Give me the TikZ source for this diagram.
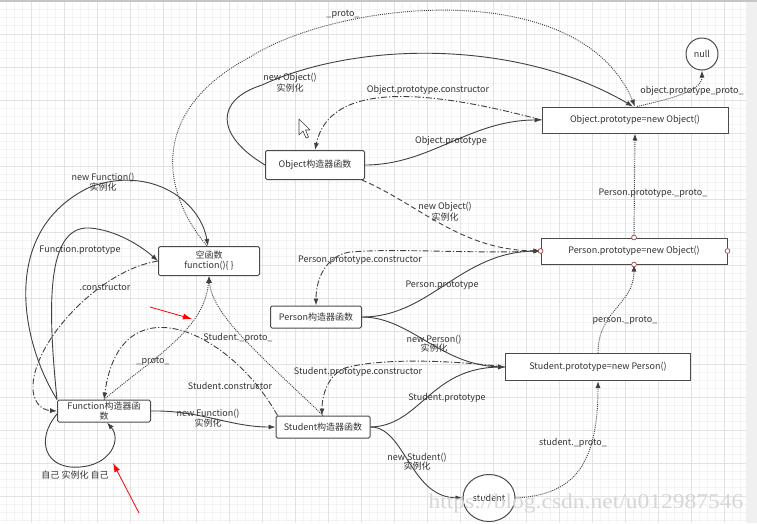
\documentclass[tikz,border=0pt]{standalone}
\usepackage{fontspec}
\setmainfont{Noto Sans CJK SC}
\newfontfamily\wmfont{Liberation Serif}
\usetikzlibrary{arrows.meta}
\usetikzlibrary{shapes.geometric}
\definecolor{linecol}{HTML}{404040}
\definecolor{boxcol}{HTML}{4A4A4A}
\definecolor{txtcol}{HTML}{333333}
\definecolor{gridmin}{HTML}{F3F3F3}
\definecolor{gridmaj}{HTML}{E2E2E2}
\definecolor{portcol}{HTML}{A84848}
\newcommand{\shili}{实例化}
\tikzset{
  ctorbox/.style={draw=boxcol, line width=1pt, rounded corners=1.5pt, fill=white, inner sep=0pt, text=txtcol},
  protobox/.style={draw=boxcol, line width=1pt, fill=white, inner sep=0pt, text=txtcol},
  lbl/.style={text=txtcol, align=center, inner sep=0pt, font=\fontsize{9}{9.5}\selectfont},
  conn/.style={draw=linecol, line width=0.9pt, -{Latex[length=7pt,width=5pt]}},
  protoline/.style={conn, dash pattern=on 1pt off 1.1pt},
  ctorline/.style={conn, dash pattern=on 6pt off 2pt on 1.2pt off 2pt},
  newline/.style={conn, dash pattern=on 5pt off 3pt},
  redarr/.style={draw=red, line width=0.8pt, -{Latex[length=9pt,width=6pt]}},
  portdot/.style={draw=portcol, fill=white, line width=0.7pt},
}
\begin{document}
\begin{tikzpicture}[x=1pt, y=-1pt, font=\fontsize{9}{10}\selectfont]
		\useasboundingbox (0,0) rectangle (757,523);
		% grid paper
		\fill[white] (0,0) rectangle (746,523);
		\fill[gray!12] (746,0) rectangle (757,523);
		\foreach \i in {0,...,90} \draw[gridmin, line width=0.7pt] ({-2+8.25*\i},0) -- ({-2+8.25*\i},523);
		\foreach \j in {0,...,63} \draw[gridmin, line width=0.7pt] (0,{1+8.25*\j}) -- (746,{1+8.25*\j});
		\foreach \i in {0,...,22} \draw[gridmaj, line width=0.8pt] ({-2+33*\i},0) -- ({-2+33*\i},523);
		\foreach \j in {0,...,15} \draw[gridmaj, line width=0.8pt] (0,{1+33*\j}) -- (746,{1+33*\j});
		\fill[gray!45] (0,0) rectangle (757,2);
		
		\draw (315,165) node[ctorbox, minimum width=99pt, minimum height=29pt] (objctor) {Object构造器函数};
		\draw (635,120) node[protobox, minimum width=186pt, minimum height=26pt] (objproto) {Object.prototype=new Object()};
		\draw (702,54) node[circle, draw=boxcol, line width=1pt, fill=white, minimum size=32pt, inner sep=0pt, text=txtcol] (nullnd) {null};
		\draw (634,251) node[protobox, minimum width=186pt, minimum height=26pt] (perproto) {Person.prototype=new Object()};
		\draw (316,317) node[ctorbox, minimum width=91pt, minimum height=22pt] (perctor) {Person构造器函数};
		\draw (598,367) node[protobox, minimum width=185pt, minimum height=27pt] (stuproto) {Student.prototype=new Person()};
		\draw (323,427) node[ctorbox, minimum width=94pt, minimum height=22pt] (stuctor) {Student构造器函数};
		\draw (489,498) node[ellipse, draw=boxcol, line width=1pt, fill=white, minimum width=52pt, minimum height=47pt, inner sep=0pt, text=txtcol] (student) {student};
		\draw (209,261) node[ctorbox, minimum width=101pt, minimum height=29pt, align=center] (emptyfn) {空函数\\function()\{ \}};
		\draw (104,411) node[ctorbox, minimum width=93pt, minimum height=22pt, align=center, font=\fontsize{9}{9.5}\selectfont] (fnctor) {Function构造器函\\数};
		
		% Object
		\draw[protoline] ([xshift=-2pt]emptyfn.north) .. controls (160,190) and (150,110) .. (250,57) .. controls (340,0) and (580,-25) .. (objproto.north);
		\draw[protoline] ([xshift=2pt]objproto.north) .. controls (665,100) and (702,92) .. (nullnd.south);
		\draw[conn] (objctor.west) .. controls (215,135) and (215,100) .. (262,85) .. controls (360,40) and (520,40) .. ([xshift=-2pt]objproto.north);
		\draw[ctorline] (objproto.west) .. controls (430,90) and (330,80) .. (objctor.north);
		\draw[conn] (objctor.east) .. controls (430,165) and (470,120) .. (objproto.west);
		\draw[newline] ([xshift=-3pt]objctor.south east) .. controls (420,205) and (460,250) .. (perproto.west);
		
		% Person
		\draw[protoline] (perproto.north) -- (objproto.south);
		\draw[ctorline] (perproto.west) .. controls (470,254) and (400,248) .. (350,252) .. controls (325,256) and (316,280) .. (perctor.north);
		\draw[conn] (perctor.east) .. controls (430,317) and (460,252) .. (perproto.west);
		\draw[conn] (perctor.east) .. controls (410,317) and (440,365) .. (stuproto.west);
		\draw[protoline] (stuproto.north) .. controls (598,310) and (634,305) .. (perproto.south);
		
		% Student
		\draw[ctorline] (stuproto.west) .. controls (450,360) and (380,358) .. (345,368) .. controls (328,375) and (322,395) .. ([xshift=-1pt]stuctor.north);
		\draw[conn] (stuctor.east) .. controls (420,426) and (430,368) .. (stuproto.west);
		\draw[conn] (stuctor.east) .. controls (405,427) and (410,497) .. (student.west);
		\draw[protoline] (student.east) .. controls (570,495) and (598,470) .. (stuproto.south);
		\draw[protoline] (stuctor.north) .. controls (260,355) and (212,315) .. (emptyfn.south);
		\draw[ctorline] ([xshift=2pt]stuctor.north west) .. controls (230,330) and (120,280) .. (fnctor.north);
		
		% Function
		\draw[protoline] (fnctor.north) .. controls (150,360) and (205,330) .. (emptyfn.south);
		\draw[conn] (fnctor.east) .. controls (200,410) and (230,427) .. (stuctor.west);
		\draw[conn] ([yshift=-3pt]fnctor.west) .. controls (35,440) and (45,470) .. (80,467) .. controls (110,465) and (122,440) .. ([xshift=3pt]fnctor.south);
		\draw[conn] (fnctor.north west) .. controls (20,340) and (0,230) .. (90,187) .. controls (150,165) and (200,200) .. ([xshift=-1pt]emptyfn.north);
		\draw[conn] (fnctor.north west) .. controls (48,310) and (45,225) .. (90,228) .. controls (115,230) and (140,245) .. (emptyfn.west);
		\draw[ctorline] (emptyfn.west) .. controls (100,270) and (35,340) .. (33,385) .. controls (32,400) and (40,410) .. (fnctor.west);
		
		\foreach \a in {north,south,east,west} \draw[portdot] (perproto.\a) circle (2.4);
		
		% labels
		\draw (343,14) node[lbl] (lproto) {\_proto\_};
		\draw (692,91) node[lbl] (lobjnull) {object.prototype\_proto\_};
		\draw (290,82.5) node[lbl] (lnewobj) {new Object()\\\shili};
		\draw (428,90) node[lbl] (lobjcons) {Object.prototype.constructor};
		\draw (451,141) node[lbl] (lobjpro) {Object.prototype};
		\draw (445,211.5) node[lbl] (lnewobjb) {new Object()\\\shili};
		\draw (653,193) node[lbl] (lperpp) {Person.prototype.\_proto\_};
		\draw (360,260) node[lbl] (lpercons) {Person.prototype.constructor};
		\draw (442,285) node[lbl] (lperpro) {Person.prototype};
		\draw (434,343.5) node[lbl] (lnewper) {new Person()\\\shili};
		\draw (625,320) node[lbl] (lperproto) {person.\_proto\_};
		\draw (358,372) node[lbl] (lstucons) {Student.prototype.constructor};
		\draw (447,398) node[lbl] (lstupro) {Student.prototype};
		\draw (417,461.5) node[lbl] (lnewstu) {new Student()\\\shili};
		\draw (573,443) node[lbl] (lstuproto) {student.\_proto\_};
		\draw (238,338) node[lbl] (lStuproto) {Student.\_proto\_};
		\draw (153,361) node[lbl] (lfnproto) {\_proto\_};
		\draw (230,386) node[lbl] (lStucons) {Student.constructor};
		\draw (208,418) node[lbl] (lnewfnb) {new Function()\\\shili};
		\draw (75,475) node[lbl] (lself) {自己 实例化 自己};
		\draw (103,182) node[lbl] (lnewfn) {new Function()\\\shili};
		\draw (80,250) node[lbl] (lfnpro) {Function.prototype};
		\draw (105,287) node[lbl] (lcons) {.constructor};
		
		% red marks
		\coordinate (redAs) at (150,307);
		\coordinate (redAe) at (192,319);
		\coordinate (redBs) at (139,513);
		\coordinate (redBe) at (113,463);
		\draw[redarr] (redAs) -- (redAe);
		\draw[redarr] (redBs) -- (redBe);
		
		% mouse pointer
		\draw[linecol, fill=white, line width=0.6pt, line join=round] (299,119) -- (299,135) -- (303,131) -- (306,138) -- (308.5,137) -- (305.5,130) -- (310,130) -- cycle;
		
		\draw (586,503) node[inner sep=0pt, text=gray!32] (wmark) {\scalebox{1.12}[1]{\wmfont\fontsize{21}{21}\selectfont https://blog.csdn.net/u012987546}};
	\end{tikzpicture}
\end{document}
